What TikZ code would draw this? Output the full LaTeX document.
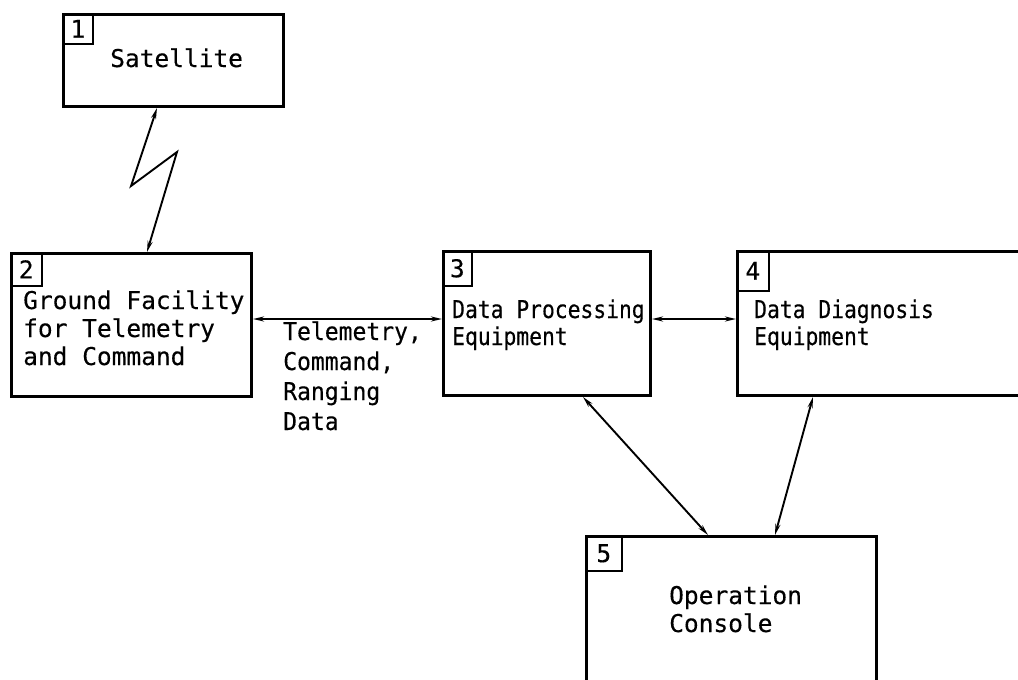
\documentclass[tikz,border=0pt]{standalone}
\usepackage{fontspec}
\newfontfamily\diagfont[FakeBold=0.3]{DejaVu Sans Mono}
\newfontfamily\narrowfont[FakeStretch=0.87,FakeBold=0.3]{DejaVu Sans Mono}
\newfontfamily\labelfont[FakeStretch=0.94,FakeBold=0.3]{DejaVu Sans Mono}
\usetikzlibrary{arrows.meta,calc}
\begin{document}
\begin{tikzpicture}[x=1pt,y=-1pt,
  every node/.style={font=\diagfont\fontsize{24.5}{28}\selectfont},
  box/.style={draw, line width=3pt, inner sep=0pt, anchor=north west},
  numbox/.style={draw, line width=1.6pt, inner sep=0pt, anchor=north west},
  txt/.style={inner sep=0pt, anchor=base west, align=left},
  narrow/.style={font=\narrowfont\fontsize{24.5}{27}\selectfont},
  tip/.tip={Stealth[length=11pt,width=5pt]},
  link/.style={line width=1.9pt, tip-tip}
]
\useasboundingbox (0,0) rectangle (1018,680);
\clip (0,0) rectangle (1018,680);
\fill[white] (0,0) rectangle (1018,680);

% main blocks
\node[box, minimum width=220pt, minimum height=92pt] (b1) at (62,13) {};
\node[box, minimum width=240pt, minimum height=143pt] (b2) at (10,252) {};
\node[box, minimum width=207pt, minimum height=144pt] (b3) at (442,250) {};
\node[box, minimum width=300pt, minimum height=144pt] (b4) at (736,250) {};
\node[box, minimum width=290pt, minimum height=170pt] (b5) at (585,535) {};

% block numbers
\node[numbox, minimum width=30pt, minimum height=30pt] (n1) at (b1.north west) {1};
\node[numbox, minimum width=31pt, minimum height=33pt] (n2) at (b2.north west) {2};
\node[numbox, minimum width=29pt, minimum height=35pt] (n3) at (b3.north west) {3};
\node[numbox, minimum width=32pt, minimum height=40pt] (n4) at (b4.north west) {4};
\node[numbox, minimum width=36pt, minimum height=35pt] (n5) at (b5.north west) {5};

% block texts (anchored at the baseline of the last line)
\node[txt] (t1) at (110,67) {Satellite};
\node[txt] (t2) at (23,365) {Ground Facility\\for Telemetry\\and Command};
\node[txt, narrow] (t3) at (452,345) {Data Processing\\Equipment};
\node[txt, narrow] (t4) at (754,345) {Data Diagnosis\\Equipment};
\node[txt] (t5) at (669,632) {Operation\\Console};
\node[txt, font=\labelfont\fontsize{24.5}{30}\selectfont] (lab) at (283,430)
  {Telemetry,\\Command,\\Ranging\\Data};

% radio link
\draw[link, line join=miter] ($(b1.south west)+(95,0)$) -- (131,186) -- (177,152)
  -- ($(b2.north west)+(137,0)$);

% data links
\draw[link] ($(b2.north east)+(0,67)$) -- ($(b3.north west)+(0,69)$);
\draw[link] ($(b3.north east)+(0,69)$) -- ($(b4.north west)+(0,69)$);
\draw[link] ($(b3.south west)+(141,0)$) -- ($(b5.north west)+(123,0)$);
\draw[link] ($(b4.south west)+(77,0)$) -- ($(b5.north west)+(190,0)$);
\end{tikzpicture}
\end{document}
